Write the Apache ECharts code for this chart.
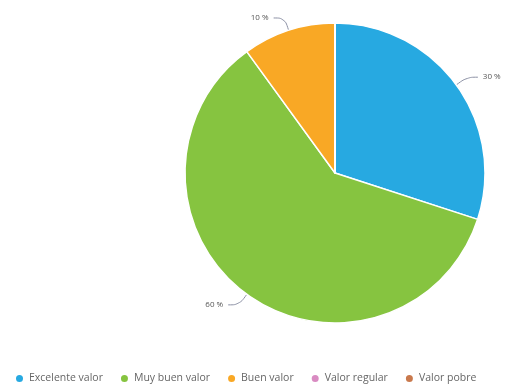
<!DOCTYPE html>
<html>
<head>
<meta charset="utf-8">
<script src="https://cdn.jsdelivr.net/npm/echarts@6/dist/echarts.min.js"></script>
<style>
html,body{margin:0;padding:0;background:#fff;}
#chart{width:511px;height:385px;}
</style>
</head>
<body>
<div id="chart"></div>
<script>
// Rating categories and their share (%)
const categories = ['Excelente valor', 'Muy buen valor', 'Buen valor', 'Valor regular', 'Valor pobre'];
const shares = [30, 60, 10, 0, 0];
const colors = ['#27a9e1', '#86c440', '#f9a825', '#d98bc2', '#c9794d'];

const chart = echarts.init(document.getElementById('chart'));

const data = categories.map((name, i) => {
  const item = { name: name, value: shares[i], itemStyle: { color: colors[i] } };
  if (shares[i] === 0) {
    item.label = { show: false };
    item.labelLine = { show: false };
  }
  return item;
});

chart.setOption({
  animation: false,
  legend: {
    top: 368,
    left: 9,
    icon: 'circle',
    itemWidth: 9,
    itemHeight: 9,
    itemGap: 16,
    textStyle: { fontFamily: 'Open Sans', fontSize: 10.5, color: '#666' },
    data: categories
  },
  series: [{
    type: 'pie',
    center: [335, 173],
    radius: [0, 150],
    startAngle: 90,
    clockwise: true,
    stillShowZeroSum: false,
    itemStyle: { borderColor: '#fff', borderWidth: 1.5 },
    label: {
      formatter: '{c} %',
      fontFamily: 'Open Sans',
      fontSize: 8,
      color: '#555'
    },
    labelLine: {
      length: 13,
      length2: 11,
      smooth: 0.4,
      lineStyle: { color: '#8a8fa3', width: 1 }
    },
    data: data
  }]
});
</script>
</body>
</html>
